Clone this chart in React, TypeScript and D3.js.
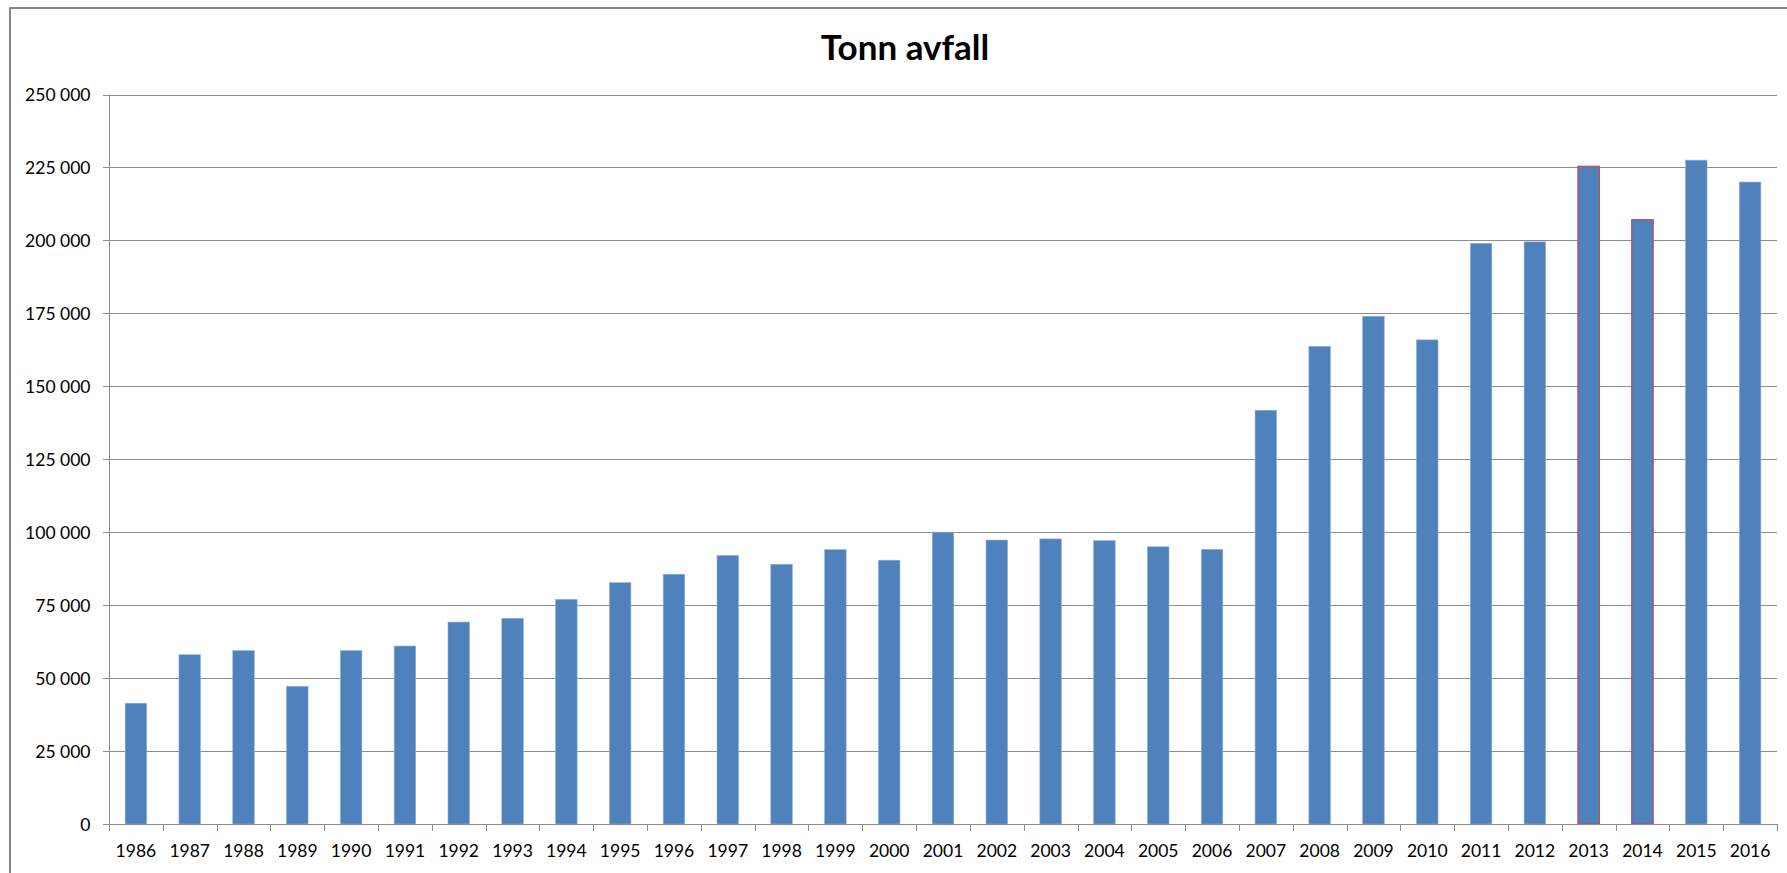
import React, { useEffect } from "react";
import * as d3 from "d3";

const years = [
  "1986", "1987", "1988", "1989", "1990", "1991", "1992", "1993", "1994", "1995",
  "1996", "1997", "1998", "1999", "2000", "2001", "2002", "2003", "2004", "2005",
  "2006", "2007", "2008", "2009", "2010", "2011", "2012", "2013", "2014", "2015", "2016",
];
const tonn = [
  41400, 58000, 59400, 47200, 59400, 61000, 69200, 70500, 77000, 82700,
  85600, 92000, 89000, 94000, 90400, 100000, 97300, 97700, 97100, 95000,
  94100, 141800, 163700, 174000, 165900, 199000, 199500, 225400, 207100, 227500, 220000,
];
const highlighted = ["2013", "2014"];
const yTicks = [0, 25000, 50000, 75000, 100000, 125000, 150000, 175000, 200000, 225000, 250000];
const title = "Tonn avfall";

const W = 1787;
const H = 873;
const plot = { left: 109, right: 1777, top: 94.5, bottom: 824 };
const FONT = "Lato, 'Open Sans', sans-serif";

export default function App() {
  useEffect(() => {
    document.body.style.margin = "0";
    document.body.style.overflow = "hidden";
  }, []);

  const band = d3.scaleBand<string>().domain(years).range([plot.left, plot.right]);
  const y = d3.scaleLinear().domain([0, 250000]).range([plot.bottom, plot.top]);
  const fmt = (v: number) => d3.format(",")(v).replace(/,/g, " ");

  const barW = band.bandwidth() / 2.5;

  return (
    <svg width={W} height={H} style={{ display: "block", background: "#fff" }}>
      <rect x={10} y={8} width={W + 20} height={H + 20} fill="#fff" stroke="#868686" strokeWidth={2} />
      <text x={905} y={60} textAnchor="middle" fontFamily={FONT} fontWeight={700} fontSize={35} fill="#000">
        {title}
      </text>
      {yTicks.map((t) => (
        <g key={t}>
          {t > 0 && (
            <line x1={plot.left} x2={plot.right} y1={Math.round(y(t)) + 0.5} y2={Math.round(y(t)) + 0.5} stroke="#8c8c8c" strokeWidth={1} />
          )}
          <line x1={plot.left - 6} x2={plot.left} y1={Math.round(y(t)) + 0.5} y2={Math.round(y(t)) + 0.5} stroke="#8c8c8c" strokeWidth={1} />
          <text x={90.5} y={y(t) + 6.5} textAnchor="end" fontFamily={FONT} fontSize={17.5} fill="#000">
            {fmt(t)}
          </text>
        </g>
      ))}
      {years.map((yr, i) => {
        const cx = (band(yr) as number) + band.bandwidth() / 2;
        const hl = highlighted.includes(yr);
        return (
          <g key={yr}>
            <rect
              x={cx - barW / 2}
              y={y(tonn[i])}
              width={barW}
              height={plot.bottom - y(tonn[i])}
              fill="#4f81bd"
              stroke={hl ? "#c0504d" : "#8fb0d8"}
              strokeWidth={hl ? 1.2 : 0.6}
            />
            <text x={cx} y={857} textAnchor="middle" fontFamily={FONT} fontSize={17.5} fill="#000">
              {yr}
            </text>
          </g>
        );
      })}
      {[...years.map((yr) => band(yr) as number), plot.right].map((tx, i) => (
        <line key={i} x1={Math.round(tx) + 0.5} x2={Math.round(tx) + 0.5} y1={plot.bottom} y2={plot.bottom + 7} stroke="#8c8c8c" strokeWidth={1} />
      ))}
      <line x1={plot.left + 0.5} x2={plot.left + 0.5} y1={plot.top} y2={plot.bottom} stroke="#8c8c8c" strokeWidth={1} />
      <line x1={plot.left} x2={plot.right} y1={Math.round(plot.bottom) + 0.5} y2={Math.round(plot.bottom) + 0.5} stroke="#8c8c8c" strokeWidth={1} />
    </svg>
  );
}
